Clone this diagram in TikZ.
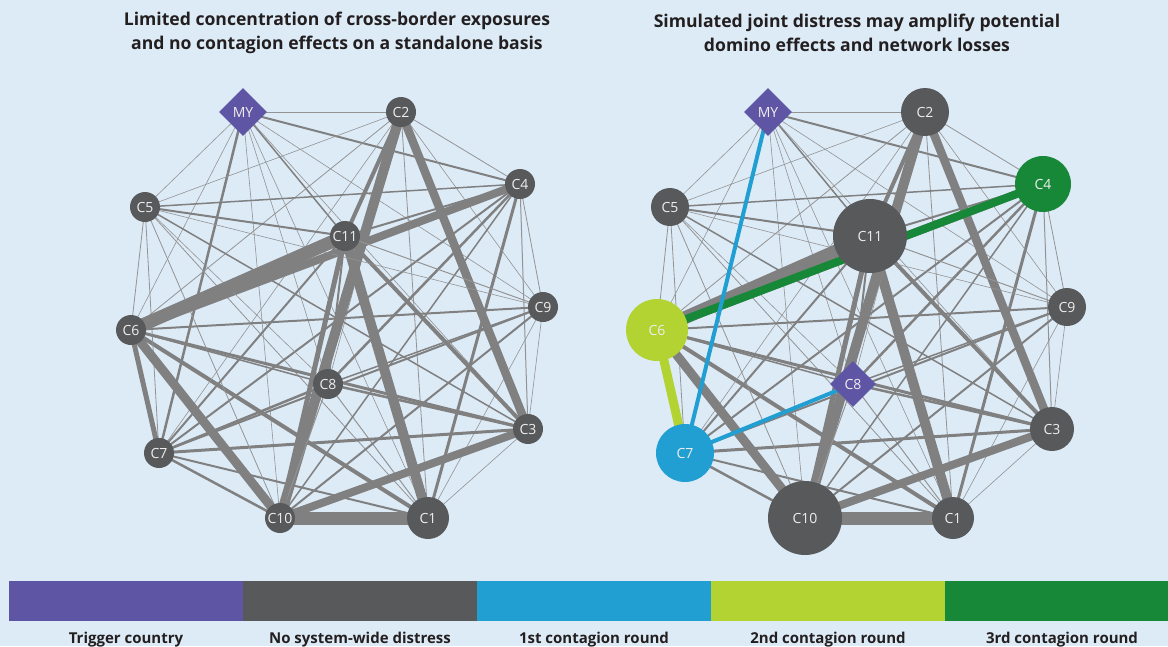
\documentclass[tikz,border=0pt]{standalone}
\usepackage{fontspec}
\setmainfont{Open Sans}
\newfontfamily\nodefont{Open Sans}
\usetikzlibrary{shapes.geometric}
\pgfdeclarelayer{canvas}
\pgfdeclarelayer{links}
\pgfsetlayers{canvas,links,main}

\definecolor{bg}{HTML}{DDEBF7}
\definecolor{nodegrey}{HTML}{58595B}
\definecolor{edgegrey}{HTML}{808080}
\definecolor{thingrey}{HTML}{939393}
\definecolor{trigger}{HTML}{5E55A4}
\definecolor{roundone}{HTML}{219FD3}
\definecolor{roundtwo}{HTML}{B3D333}
\definecolor{roundthree}{HTML}{178837}
\definecolor{ink}{HTML}{231F20}
\definecolor{labelwhite}{HTML}{EEEEEE}

\tikzset{
  country/.style={circle, fill=nodegrey, text=labelwhite, inner sep=0pt,
    font=\nodefont\fontsize{14}{14}\selectfont, minimum size=#1},
  country/.default=30pt,
  triggernode/.style={diamond, aspect=1, fill=trigger, text=labelwhite, inner sep=0pt,
    font=\nodefont\fontsize{14}{14}\selectfont, minimum size=#1},
  triggernode/.default=48pt,
  link/.style={line width=#1, draw=edgegrey},
  thinlink/.style={line width=#1, draw=thingrey},
  hot/.style={line width=#1},
  heading/.style={align=center, text=ink, font=\bfseries\fontsize{17.6}{24}\selectfont},
  swatch/.style={minimum width=234pt, minimum height=40pt, inner sep=0pt, draw=none},
  keytext/.style={anchor=base, text=ink, font=\bfseries\fontsize{15}{15}\selectfont},
}

\begin{document}
\begin{tikzpicture}[x=1pt, y=-1pt]
\path[use as bounding box] (0,0) rectangle (1168,646);
\begin{pgfonlayer}{canvas}
\fill[bg] (0,0) rectangle (1168,646);
\end{pgfonlayer}

% headings
\node[heading] (head1) at (337,33) {Limited concentration of cross-border exposures\\and no contagion effects on a standalone basis};
\node[heading] (head2) at (857,33) {Simulated joint distress may amplify potential\\domino effects and network losses};

% left network: standalone exposures
\node[triggernode] (LMY) at (243,112) {MY};
\node[country] (LC2)  at (401,112) {C2};
\node[country] (LC4)  at (520,184) {C4};
\node[country] (LC5)  at (145,207) {C5};
\node[country] (LC11) at (345,236) {C11};
\node[country] (LC9)  at (543,307) {C9};
\node[country] (LC6)  at (131,330) {C6};
\node[country] (LC8)  at (328,384) {C8};
\node[country] (LC3)  at (528,429) {C3};
\node[country] (LC7)  at (159,453) {C7};
\node[country] (LC10) at (280,518) {C10};
\node[country=42pt] (LC1) at (428,518) {C1};

% right network: joint distress
\node[triggernode] (RMY) at (768,112) {MY};
\node[country=48pt] (RC2)  at (925,112) {C2};
\node[country=56pt, fill=roundthree] (RC4) at (1043,184) {C4};
\node[country=38pt] (RC5)  at (670,207) {C5};
\node[country=74pt] (RC11) at (870,236) {C11};
\node[country=38pt] (RC9)  at (1067,307) {C9};
\node[country=62pt, fill=roundtwo] (RC6) at (657,330) {C6};
\node[triggernode=46pt] (RC8) at (853,384) {C8};
\node[country=44pt] (RC3)  at (1052,429) {C3};
\node[country=58pt, fill=roundone] (RC7) at (685,453) {C7};
\node[country=74pt] (RC10) at (805,518) {C10};
\node[country=42pt] (RC1)  at (953,518) {C1};

% exposures between countries, width = size of exposure
\begin{pgfonlayer}{links}
\foreach \a/\b/\w in {
  MY/C1/0.6, MY/C2/0.7, MY/C3/0.6, MY/C4/2, MY/C5/0.6, MY/C6/0.6, MY/C7/2.5,
  MY/C8/0.6, MY/C9/0.6, MY/C10/0.6, MY/C11/1.5,
  C1/C2/0.8, C1/C3/0.6, C1/C4/3, C1/C5/0.8, C1/C6/4, C1/C7/2, C1/C8/1,
  C1/C9/0.6, C1/C10/13, C1/C11/10,
  C2/C3/8.5, C2/C4/0.8, C2/C5/0.6, C2/C6/0.8, C2/C7/0.6, C2/C8/0.6, C2/C9/0.6,
  C2/C10/10, C2/C11/4,
  C3/C4/1, C3/C5/1.5, C3/C6/3, C3/C7/3, C3/C8/2.5, C3/C9/0.6, C3/C10/8, C3/C11/4,
  C4/C5/1.5, C4/C6/8, C4/C7/2, C4/C8/2.5, C4/C9/0.8, C4/C10/1.5, C4/C11/2,
  C5/C6/0.8, C5/C7/0.8, C5/C8/0.6, C5/C9/0.6, C5/C10/0.8, C5/C11/2,
  C6/C7/5, C6/C8/1.5, C6/C9/2, C6/C10/9, C6/C11/13,
  C7/C8/2.5, C7/C9/2, C7/C10/2.5, C7/C11/2,
  C8/C9/1.5, C8/C10/1, C8/C11/2,
  C9/C10/2, C9/C11/1,
  C10/C11/5} {
  \ifdim\w pt<1.2pt
    \draw[thinlink=\w pt] (L\a.center) -- (L\b.center);
    \draw[thinlink=\w pt] (R\a.center) -- (R\b.center);
  \else
    \draw[link=\w pt] (L\a.center) -- (L\b.center);
    \draw[link=\w pt] (R\a.center) -- (R\b.center);
  \fi
}
% contagion paths
\draw[hot=9pt, draw=roundtwo] (RC6.center) -- (RC7.center);
\draw[hot=8pt, draw=roundthree] (RC6.center) -- (RC4.center);
\draw[hot=4pt, draw=roundone] (RMY.center) -- (RC7.center);
\draw[hot=4pt, draw=roundone] (RC8.center) -- (RC7.center);
\end{pgfonlayer}

% legend
\node[swatch, fill=trigger]    (key1) at (126,601) {};
\node[swatch, fill=nodegrey]   (key2) at (360,601) {};
\node[swatch, fill=roundone]   (key3) at (594,601) {};
\node[swatch, fill=roundtwo]   (key4) at (828,601) {};
\node[swatch, fill=roundthree] (key5) at (1062,601) {};
\node[keytext] (txt1) at (126,643) {Trigger country};
\node[keytext] (txt2) at (360,643) {No system-wide distress};
\node[keytext] (txt3) at (594,643) {1st contagion round};
\node[keytext] (txt4) at (828,643) {2nd contagion round};
\node[keytext] (txt5) at (1062,643) {3rd contagion round};
\end{tikzpicture}
\end{document}
